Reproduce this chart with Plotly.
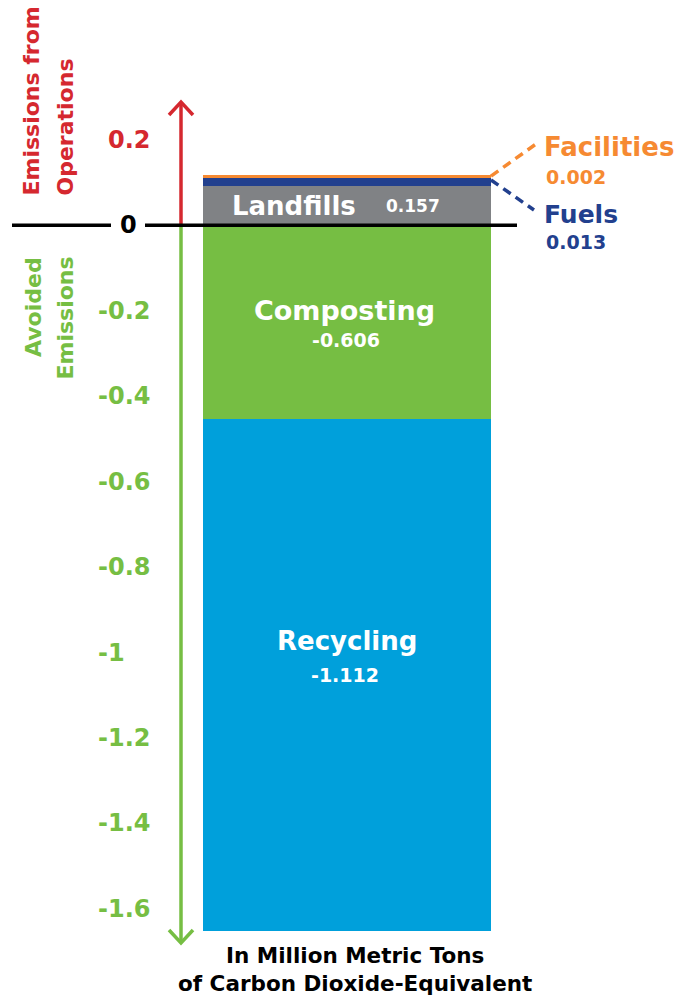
import plotly.graph_objects as go

# ---- data ----
segments = ["Landfills", "Fuels", "Facilities", "Composting", "Recycling"]
drawn_heights = [0.092, 0.021, 0.0042, -0.453, -1.198]   # bar lengths as drawn
label_values = ["0.157", "0.013", "0.002", "-0.606", "-1.112"]  # printed values
tick_values = [-0.2, -0.4, -0.6, -0.8, -1.0, -1.2, -1.4, -1.6]
tick_labels = ["-0.2", "-0.4", "-0.6", "-0.8", "-1", "-1.2", "-1.4", "-1.6"]
pos_tick_value, pos_tick_label = 0.2, "0.2"
zero_value, zero_label = 0, "0"
x_note = "In Million Metric Tons<br>of Carbon Dioxide-Equivalent"
pos_title = ["Emissions from", "Operations"]
neg_title = ["Avoided", "Emissions"]

colors = {"Landfills": "#808285", "Fuels": "#22408e", "Facilities": "#f68a32",
          "Composting": "#76be43", "Recycling": "#00a0db"}
RED, GREEN, BLACK = "#d5282f", "#76be43", "#000000"
FONT = "DejaVu Sans"

W, H = 675, 996
ZERO_PX, PX_PER_UNIT = 225.3, 427.2
def yd(px):
    return (ZERO_PX - px) / PX_PER_UNIT

fig = go.Figure()
BAR_X, BAR_W = 347, 288
for name, h in zip(segments, drawn_heights):
    fig.add_trace(go.Bar(x=[BAR_X], y=[h], width=BAR_W, name=name,
                         marker=dict(color=colors[name], line=dict(width=0)),
                         hoverinfo="skip", showlegend=False))

# segment centers from stacked data
pos_c, neg_c = 0.0, 0.0
centers = {}
for name, h in zip(segments, drawn_heights):
    if h >= 0:
        centers[name] = (pos_c + pos_c + h) / 2; pos_c += h
    else:
        centers[name] = (neg_c + neg_c + h) / 2; neg_c += h
top = pos_c

ann = []
def txt(x, y, s, size, color, xa="center", ya="middle", ys=0, **kw):
    ann.append(dict(x=x, y=y, xref="x", yref="y", text=s, showarrow=False,
                    xanchor=xa, yanchor=ya, yshift=ys,
                    font=dict(family=FONT, size=size, color=color, weight="bold"), **kw))

# bar labels
idx = {n: i for i, n in enumerate(segments)}
txt(294, centers["Landfills"], "Landfills", 26, "white")
txt(413, centers["Landfills"], label_values[idx["Landfills"]], 17, "white")
txt(BAR_X - 3, centers["Composting"], "Composting", 27, "white", ys=12)
txt(BAR_X - 1, centers["Composting"], label_values[idx["Composting"]], 19, "white", ys=-18)
txt(BAR_X, centers["Recycling"], "Recycling", 26, "white", ys=34)
txt(BAR_X - 2, centers["Recycling"], label_values[idx["Recycling"]], 19, "white", ys=0)

# side callouts
txt(542, yd(147), "Facilities", 26, colors["Facilities"], xa="left")
txt(544, yd(177), label_values[idx["Facilities"]], 19, colors["Facilities"], xa="left")
txt(542, yd(214), "Fuels", 25, colors["Fuels"], xa="left")
txt(544, yd(242), label_values[idx["Fuels"]], 19, colors["Fuels"], xa="left")

# axis tick labels
for v, s in zip(tick_values, tick_labels):
    txt(96, v, s, 24, GREEN, xa="left")
txt(106, pos_tick_value, pos_tick_label, 24, RED, xa="left")
txt(128, zero_value, zero_label, 24, BLACK)

# rotated titles (one annotation per line)
def vtxt(x, ypx, s, color, ya):
    ann.append(dict(x=x, y=yd(ypx), xref="x", yref="y", text=s, showarrow=False,
                    textangle=-90, xanchor="center", yanchor=ya,
                    font=dict(family=FONT, size=22, color=color, weight="bold")))
vtxt(31, 198, pos_title[0], RED, "bottom")
vtxt(65, 198, pos_title[1], RED, "bottom")
vtxt(33, 255, neg_title[0], GREEN, "top")
vtxt(65, 255, neg_title[1], GREEN, "top")

# bottom note
ann.append(dict(x=BAR_X + 8, y=yd(969), xref="x", yref="y", text=x_note, showarrow=False,
                xanchor="center", yanchor="middle", align="center",
                font=dict(family=FONT, size=21.5, color=BLACK, weight="bold")))

shapes = []
def line(x0, y0, x1, y1, color, width, dash=None):
    d = dict(type="line", xref="x", yref="y", x0=x0, y0=y0, x1=x1, y1=y1,
             line=dict(color=color, width=width), layer="above")
    if dash:
        d["line"]["dash"] = dash
    shapes.append(d)

AX = 181
# axis arrows
line(AX, 0, AX, yd(103), RED, 3.5)
shapes.append(dict(type="path", xref="x", yref="y",
                   path=f"M {AX-12} {yd(115)} L {AX} {yd(102)} L {AX+12} {yd(115)}",
                   line=dict(color=RED, width=3.5), layer="above"))
line(AX, 0, AX, yd(943), GREEN, 3.5)
shapes.append(dict(type="path", xref="x", yref="y",
                   path=f"M {AX-12} {yd(930)} L {AX} {yd(943)} L {AX+12} {yd(930)}",
                   line=dict(color=GREEN, width=3.5), layer="above"))
# zero line with a gap for the "0"
line(12, 0, 111, 0, BLACK, 3.5)
line(145, 0, 517, 0, BLACK, 3.5)
# leader lines
bar_right = BAR_X + BAR_W / 2
line(bar_right, top - drawn_heights[idx["Facilities"]] / 2, 536, yd(144),
     colors["Facilities"], 3.5, "9px,6px")
line(bar_right, yd(180), 534, yd(210), colors["Fuels"], 3.5, "9px,6px")

fig.update_layout(
    width=W, height=H, barmode="relative", bargap=0,
    margin=dict(l=0, r=0, t=0, b=0),
    paper_bgcolor="white", plot_bgcolor="white",
    xaxis=dict(range=[0, W], visible=False, fixedrange=True),
    yaxis=dict(range=[yd(H), yd(0)], visible=False, fixedrange=True),
    annotations=ann, shapes=shapes, showlegend=False,
)
fig.write_html("out.html", config={"displayModeBar": False},
               post_script="document.body.style.margin='0';document.body.style.overflow='hidden';")
